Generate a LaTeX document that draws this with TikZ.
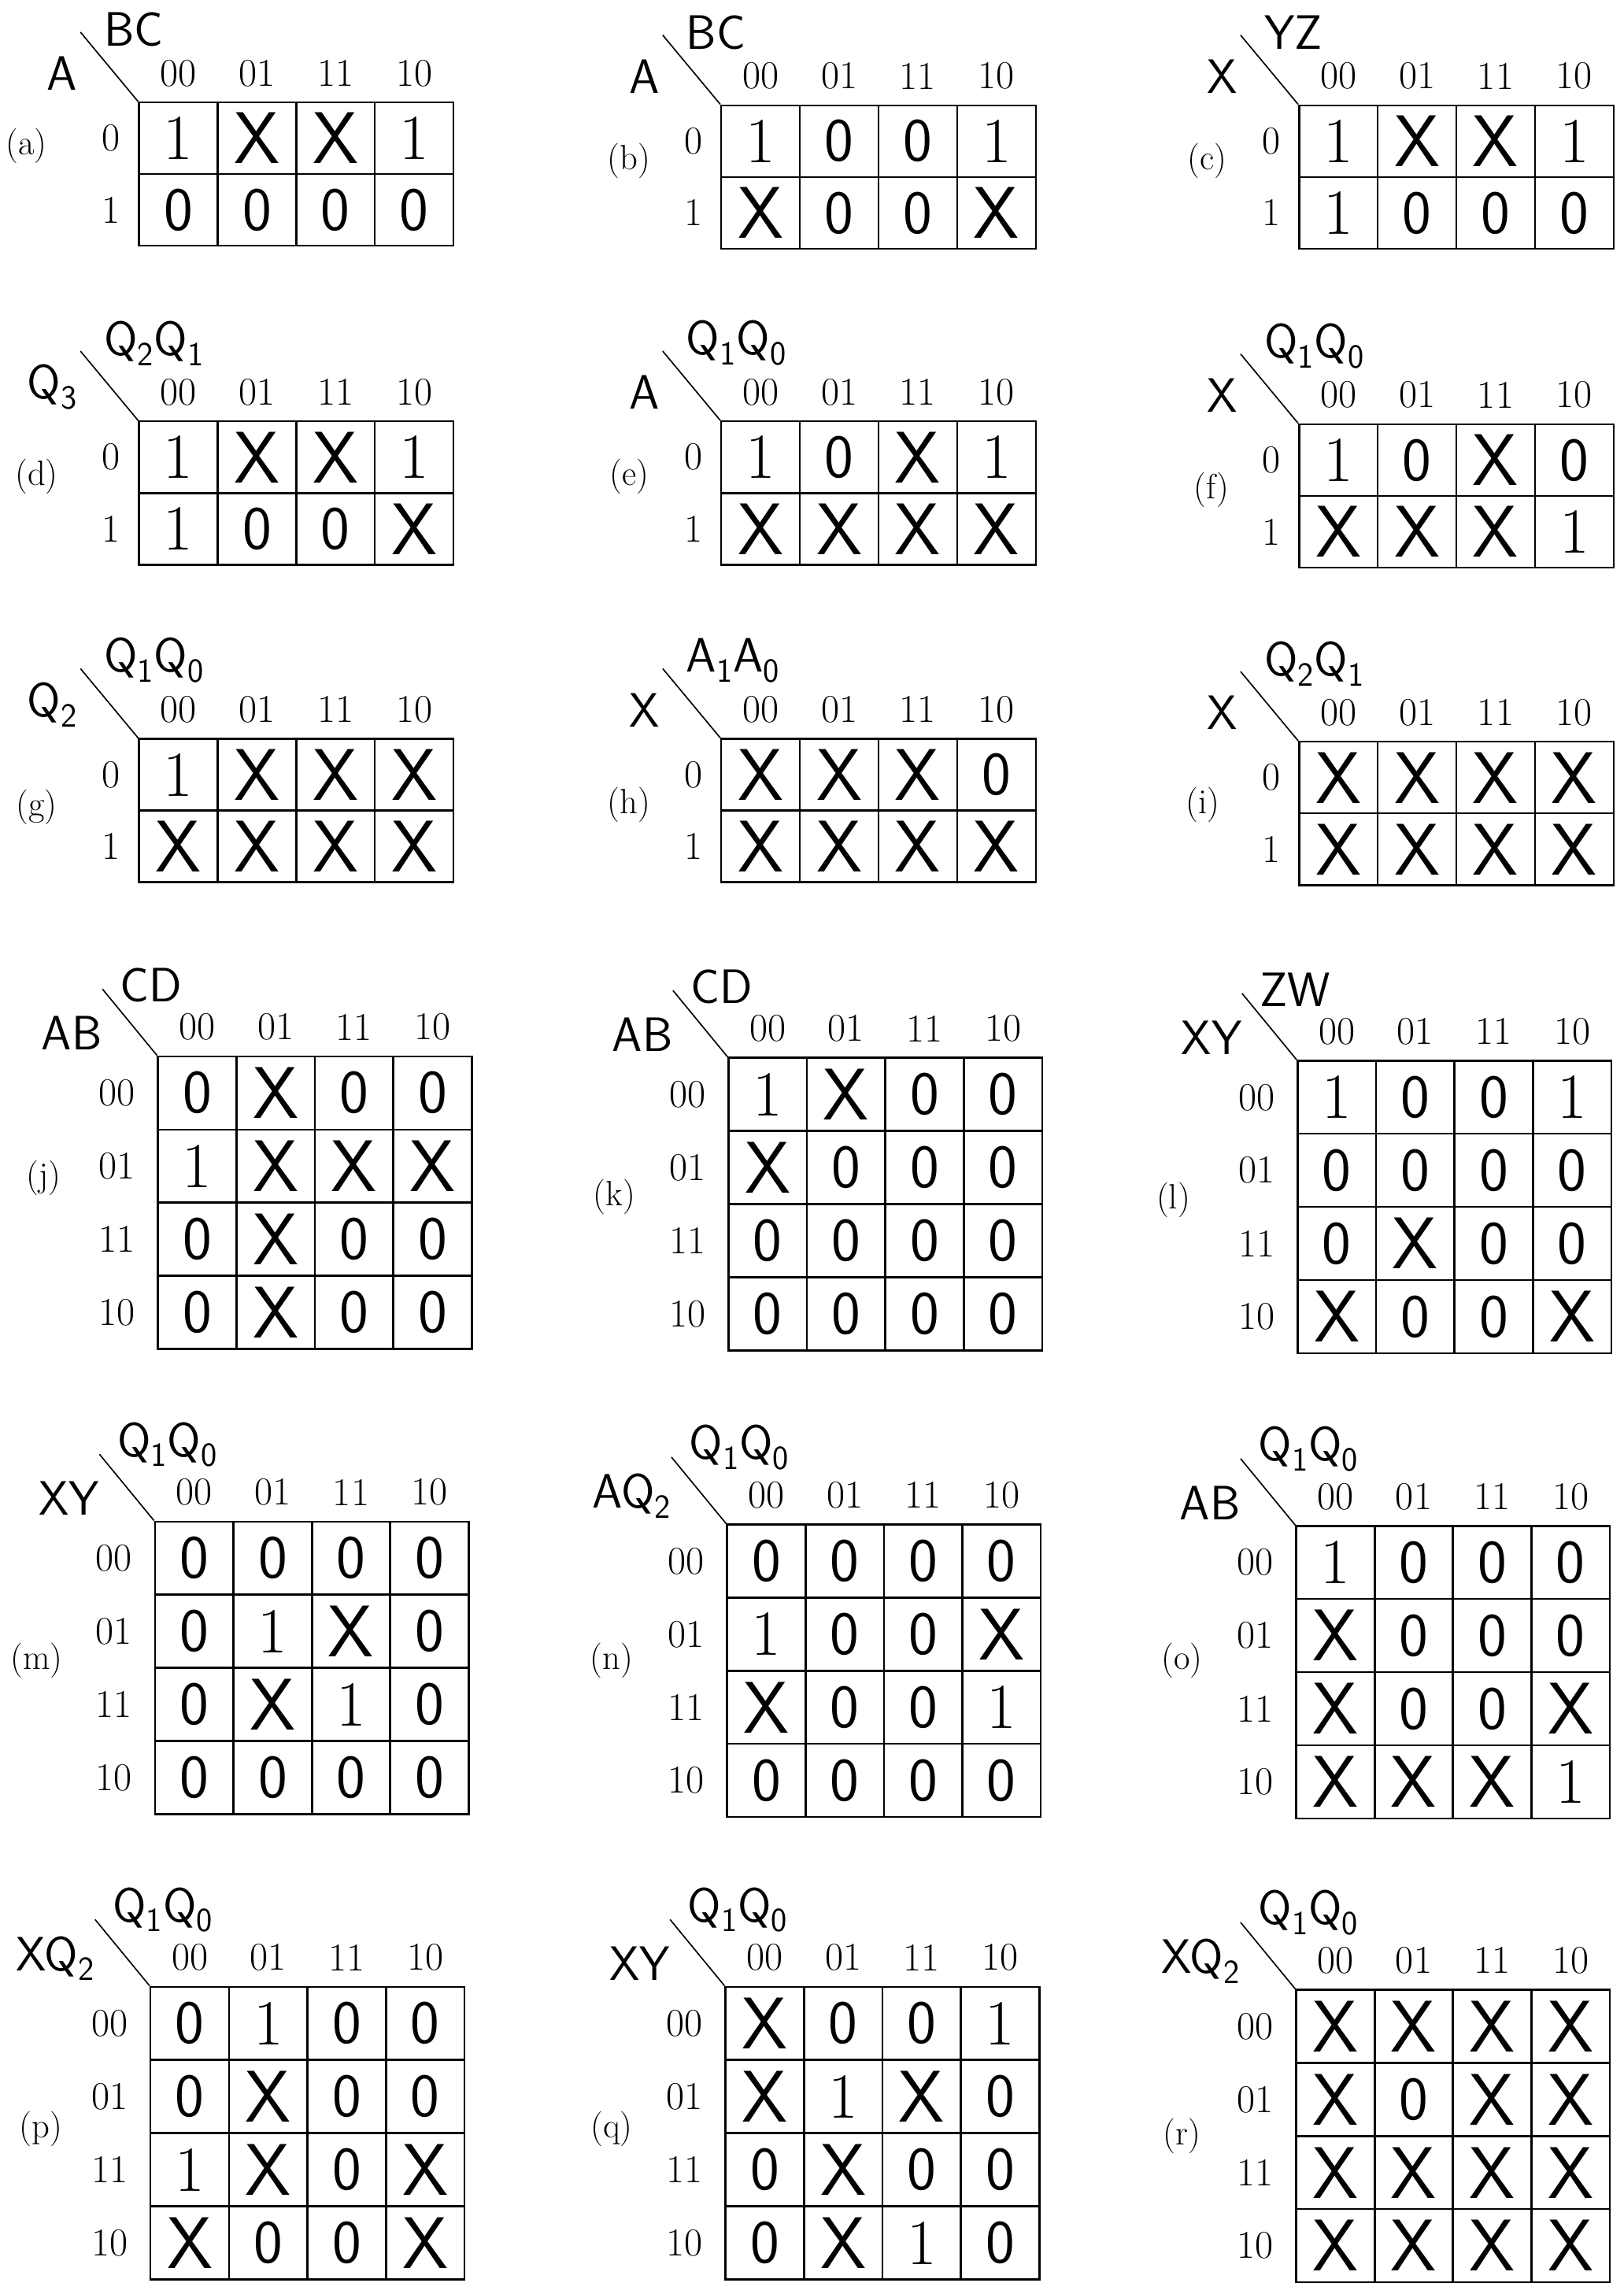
\documentclass[tikz,border=0pt]{standalone}
\usepackage{fontspec}
\usetikzlibrary{positioning}

\begin{document}
\begin{tikzpicture}[
  x=1pt, y=-1pt,
  cellbox/.style={draw, line width=1.3pt, minimum width=53.75pt, inner sep=0pt},
  cell-1/.style={font=\fontsize{44}{44}\selectfont},
  cell-0/.style={font=\fontsize{42}{42}\sffamily},
  cell-X/.style={font=\fontsize{50}{50}\sffamily},
  code/.style={font=\fontsize{27}{27}\selectfont, inner sep=0pt},
  tag/.style={font=\fontsize{24}{24}\selectfont, inner sep=0pt},
  var/.style={font=\fontsize{33}{33}\sffamily, inner sep=0pt},
  slash/.style={line width=0.9pt}
]
\useasboundingbox (0,0) rectangle (1110,1568);

% two-row maps
\foreach \m/\gx/\gy/\rv/\cv/\lx/\ly/\vals in {
  a/95/70/A/BC/18/100/{1,X,X,1,0,0,0,0},
  b/493/72/A/BC/430/110/{1,0,0,1,X,0,0,X},
  c/888/72/X/YZ/825/110/{1,X,X,1,1,0,0,0},
  d/95/288/{Q\textsubscript{3}}/{Q\textsubscript{2}Q\textsubscript{1}}/25/326/{1,X,X,1,1,0,0,X},
  e/493/288/A/{Q\textsubscript{1}Q\textsubscript{0}}/430/326/{1,0,X,1,X,X,X,X},
  f/888/290/X/{Q\textsubscript{1}Q\textsubscript{0}}/828/335/{1,0,X,0,X,X,X,1},
  g/95/505/{Q\textsubscript{2}}/{Q\textsubscript{1}Q\textsubscript{0}}/25/552/{1,X,X,X,X,X,X,X},
  h/493/505/X/{A\textsubscript{1}A\textsubscript{0}}/430/550/{X,X,X,0,X,X,X,X},
  i/888/507/X/{Q\textsubscript{2}Q\textsubscript{1}}/822/550/{X,X,X,X,X,X,X,X}} {
  \foreach \v [count=\k from 0] in \vals {
    \pgfmathtruncatemacro\r{\k/4}
    \pgfmathtruncatemacro\c{mod(\k,4)}
    \node[cellbox, minimum height=49pt, cell-\v] (\m-\r-\c)
      at ({\gx+53.75*(\c+0.5)},{\gy+49*(\r+0.5)}) {\v};
  }
  \foreach \h [count=\c from 0] in {00,01,11,10}
    \node[code] (\m-h\c) at ({\gx+53.75*(\c+0.5)},{\gy-20}) {\h};
  \foreach \h [count=\r from 0] in {0,1}
    \node[code] (\m-r\r) at ({\gx-19},{\gy+49*(\r+0.5)}) {\h};
  \coordinate (\m-d) at ({\gx-40},{\gy-48});
  \draw[slash] (\m-d) -- (\m-0-0.north west);
  \node[var, anchor=south east] (\m-rv) at ({\gx-42},{\gy-8}) {\rv};
  \node[var, anchor=south west] (\m-cv) at ({\gx-24},{\gy-38}) {\cv};
  \node[tag] (\m-lab) at (\lx,\ly) {(\m)};
}

% four-row maps
\foreach \m/\gx/\gy/\rv/\cv/\lx/\ly/\vals in {
  j/108/722/AB/CD/30/805/{0,X,0,0,1,X,X,X,0,X,0,0,0,X,0,0},
  k/498/723/AB/CD/420/818/{1,X,0,0,X,0,0,0,0,0,0,0,0,0,0,0},
  l/887/725/XY/ZW/802/820/{1,0,0,1,0,0,0,0,0,X,0,0,X,0,0,X},
  m/106/1040/XY/{Q\textsubscript{1}Q\textsubscript{0}}/25/1135/{0,0,0,0,0,1,X,0,0,X,1,0,0,0,0,0},
  n/497/1042/{AQ\textsubscript{2}}/{Q\textsubscript{1}Q\textsubscript{0}}/418/1135/{0,0,0,0,1,0,0,X,X,0,0,1,0,0,0,0},
  o/886/1043/AB/{Q\textsubscript{1}Q\textsubscript{0}}/808/1135/{1,0,0,0,X,0,0,0,X,0,0,X,X,X,X,1},
  p/103/1358/{XQ\textsubscript{2}}/{Q\textsubscript{1}Q\textsubscript{0}}/28/1455/{0,1,0,0,0,X,0,0,1,X,0,X,X,0,0,X},
  q/496/1358/XY/{Q\textsubscript{1}Q\textsubscript{0}}/418/1455/{X,0,0,1,X,1,X,0,0,X,0,0,0,X,1,0},
  r/886/1360/{XQ\textsubscript{2}}/{Q\textsubscript{1}Q\textsubscript{0}}/808/1460/{X,X,X,X,X,0,X,X,X,X,X,X,X,X,X,X}} {
  \foreach \v [count=\k from 0] in \vals {
    \pgfmathtruncatemacro\r{\k/4}
    \pgfmathtruncatemacro\c{mod(\k,4)}
    \node[cellbox, minimum height=50pt, cell-\v] (\m-\r-\c)
      at ({\gx+53.6*(\c+0.5)},{\gy+50*(\r+0.5)}) {\v};
  }
  \foreach \h [count=\c from 0] in {00,01,11,10}
    \node[code] (\m-h\c) at ({\gx+53.6*(\c+0.5)},{\gy-20}) {\h};
  \foreach \h [count=\r from 0] in {00,01,11,10}
    \node[code] (\m-r\r) at ({\gx-28},{\gy+50*(\r+0.5)}) {\h};
  \coordinate (\m-d) at ({\gx-38},{\gy-46});
  \draw[slash] (\m-d) -- (\m-0-0.north west);
  \node[var, anchor=south east] (\m-rv) at ({\gx-38},{\gy-4}) {\rv};
  \node[var, anchor=south west] (\m-cv) at ({\gx-26},{\gy-37}) {\cv};
  \node[tag] (\m-lab) at (\lx,\ly) {(\m)};
}

\end{tikzpicture}
\end{document}
